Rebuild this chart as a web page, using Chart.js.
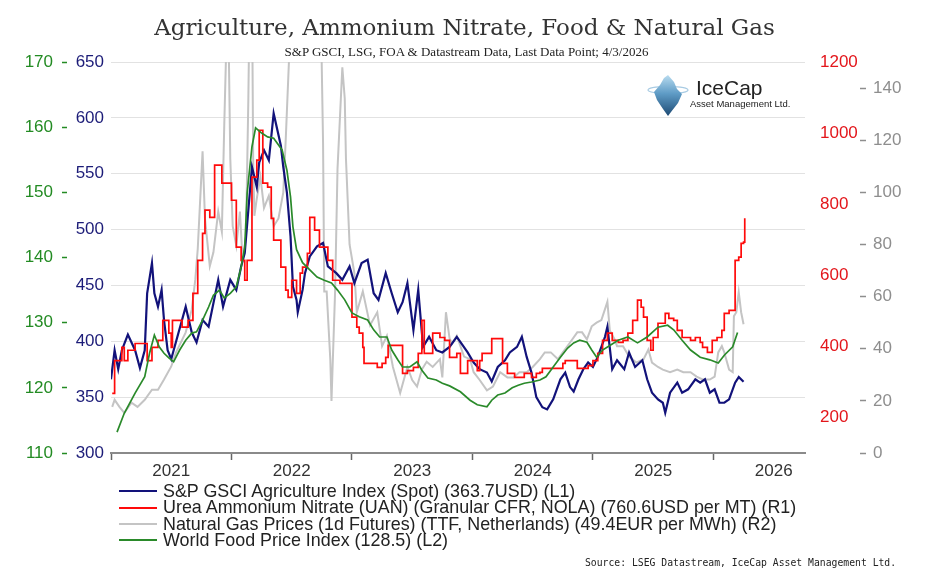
<!DOCTYPE html>
<html>
<head>
<meta charset="utf-8">
<script src="https://cdn.jsdelivr.net/npm/chart.js@4.4.1/dist/chart.umd.min.js"></script>
<style>
  html,body{margin:0;padding:0;background:#fff;}
  #wrap{position:relative;width:927px;height:587px;overflow:hidden;background:#fff;}
  #c{position:absolute;left:0;top:0;}
  .abs{position:absolute;white-space:nowrap;}
  #title{left:1px;top:14px;width:927px;text-align:center;font:23px "DejaVu Serif",serif;color:#333;line-height:26px;}
  #subtitle{left:3px;top:45px;width:927px;text-align:center;font:13px "Liberation Serif","Times New Roman",serif;color:#222;line-height:14px;}
  #logoText{left:696px;top:76px;font:21px "Liberation Sans",Arial,sans-serif;color:#222;line-height:24px;}
  #logoSub{left:690px;top:98px;font:9.5px "Liberation Sans",Arial,sans-serif;color:#222;line-height:12px;}
  #legend{left:119px;top:483px;font:17.9px "Liberation Sans",Arial,sans-serif;color:#222;}
  .row{height:16.4px;line-height:16.4px;display:flex;align-items:center;}
  .swatch{display:inline-block;width:38px;height:2px;margin-right:6px;}
  #source{left:585px;top:556px;font:9.75px "DejaVu Sans Mono",monospace;color:#222;line-height:13px;}
</style>
</head>
<body>
<div id="wrap">
  <canvas id="c" width="927" height="587"></canvas>
  <div id="title" class="abs">Agriculture, Ammonium Nitrate, Food &amp; Natural Gas</div>
  <div id="subtitle" class="abs">S&amp;P GSCI, LSG, FOA &amp; Datastream Data, Last Data Point; 4/3/2026</div>
  <svg class="abs" style="left:644px;top:73px" width="48" height="46" viewBox="0 0 48 46">
    <defs>
      <linearGradient id="ice" x1="0" y1="0" x2="0" y2="1">
        <stop offset="0" stop-color="#b9dcf0"/>
        <stop offset="0.45" stop-color="#5f9cc6"/>
        <stop offset="1" stop-color="#1d4a74"/>
      </linearGradient>
    </defs>
    <ellipse cx="24" cy="17" rx="20" ry="3.5" fill="none" stroke="#a8cbe3" stroke-width="1.2"/>
    <polygon points="24,2 30,9 33,16 38,21 34,30 27,39 24,43 19,36 13,27 10,19 16,12 20,5" fill="url(#ice)"/>
  </svg>
  <div id="logoText" class="abs">IceCap</div>
  <div id="logoSub" class="abs">Asset Management Ltd.</div>
  <div id="legend" class="abs"></div>
  <div id="source" class="abs">Source: LSEG Datastream, IceCap Asset Management Ltd.</div>
</div>
<script>
// ---- Data (decimal year, value) ----
const yearLabels = ['2021','2022','2023','2024','2025','2026'];
const blueTicks  = [300,350,400,450,500,550,600,650];
const greenTicks = [110,120,130,140,150,160,170];
const redTicks   = [200,400,600,800,1000,1200];
const grayTicks  = [0,20,40,60,80,100,120,140];

const seriesNames = [
  'S&P GSCI Agriculture Index (Spot) (363.7USD) (L1)',
  'Urea Ammonium Nitrate (UAN) (Granular CFR, NOLA) (760.6USD per MT) (R1)',
  'Natural Gas Prices (1d Futures) (TTF, Netherlands) (49.4EUR per MWh) (R2)',
  'World Food Price Index (128.5) (L2)'
];

const agriSpot = [
  [2021.00,366],[2021.03,392],[2021.06,375],[2021.09,392],[2021.14,406],[2021.20,392],[2021.24,376],[2021.28,392],
  [2021.30,443],[2021.34,470],[2021.36,443],[2021.39,431],[2021.42,446],[2021.44,419],[2021.47,392],[2021.50,384],
  [2021.52,392],[2021.62,431],[2021.67,408],[2021.71,399],[2021.76,419],[2021.81,413],[2021.89,455],[2021.93,431],
  [2021.99,455],[2022.04,446],[2022.08,467],[2022.11,479],[2022.17,556],[2022.21,538],[2022.23,560],[2022.27,571],
  [2022.31,562],[2022.35,604],[2022.41,575],[2022.43,556],[2022.46,533],[2022.49,494],[2022.51,449],[2022.54,437],
  [2022.55,426],[2022.59,446],[2022.61,461],[2022.65,476],[2022.71,485],[2022.76,488],[2022.80,467],[2022.87,461],
  [2022.92,455],[2022.98,467],[2023.02,452],[2023.08,470],[2023.13,473],[2023.18,443],[2023.22,437],[2023.28,461],
  [2023.33,443],[2023.38,426],[2023.42,435],[2023.46,452],[2023.51,410],[2023.55,446],[2023.59,395],[2023.64,404],
  [2023.70,392],[2023.75,390],[2023.81,395],[2023.87,404],[2023.96,390],[2024.01,381],[2024.06,375],[2024.12,372],
  [2024.16,364],[2024.21,377],[2024.27,383],[2024.31,390],[2024.37,395],[2024.41,404],[2024.45,386],[2024.49,372],
  [2024.53,350],[2024.58,341],[2024.62,339],[2024.67,348],[2024.73,366],[2024.77,372],[2024.81,359],[2024.84,355],
  [2024.88,366],[2024.92,375],[2024.96,381],[2025.00,377],[2025.04,386],[2025.10,404],[2025.12,413],[2025.16,375],
  [2025.20,383],[2025.26,375],[2025.30,390],[2025.35,377],[2025.41,383],[2025.45,366],[2025.49,354],[2025.54,348],
  [2025.58,345],[2025.60,336],[2025.64,354],[2025.70,363],[2025.74,354],[2025.79,357],[2025.85,366],[2025.89,363],
  [2025.93,366],[2025.97,354],[2026.01,357],[2026.05,345],[2026.09,345],[2026.13,348],[2026.18,363],[2026.21,368],
  [2026.25,363.7]
];

const ureaAN = [
  [2021.01,268],[2021.03,360],[2021.09,397],[2021.11,360],[2021.14,389],[2021.20,408],[2021.30,360],[2021.34,397],
  [2021.39,417],[2021.43,473],[2021.48,437],[2021.50,397],[2021.51,473],[2021.59,454],[2021.64,473],[2021.68,549],
  [2021.72,642],[2021.76,718],[2021.78,783],[2021.82,763],[2021.86,910],[2021.92,859],[2022.00,811],[2022.04,679],
  [2022.08,642],[2022.11,586],[2022.13,642],[2022.17,876],[2022.21,924],[2022.23,1008],[2022.26,859],[2022.30,848],
  [2022.33,760],[2022.35,699],[2022.41,623],[2022.45,558],[2022.47,538],[2022.50,586],[2022.54,549],[2022.57,606],
  [2022.59,623],[2022.63,662],[2022.65,763],[2022.69,727],[2022.73,679],[2022.80,642],[2022.84,586],[2022.90,577],
  [2023.00,482],[2023.04,454],[2023.06,437],[2023.09,397],[2023.10,352],[2023.21,341],[2023.25,352],[2023.28,369],
  [2023.30,403],[2023.42,324],[2023.46,332],[2023.51,341],[2023.55,380],[2023.58,473],[2023.60,380],[2023.67,437],
  [2023.73,425],[2023.77,417],[2023.81,369],[2023.87,380],[2023.90,324],[2023.96,360],[2024.04,332],[2024.06,360],
  [2024.08,380],[2024.16,422],[2024.25,352],[2024.29,324],[2024.35,313],[2024.43,324],[2024.49,313],[2024.53,324],
  [2024.56,327],[2024.58,338],[2024.75,352],[2024.77,360],[2024.87,338],[2024.96,346],[2025.00,360],[2025.04,380],
  [2025.08,417],[2025.12,437],[2025.16,417],[2025.21,411],[2025.25,417],[2025.29,437],[2025.33,473],[2025.37,530],
  [2025.40,510],[2025.42,482],[2025.45,417],[2025.48,389],[2025.50,425],[2025.54,465],[2025.60,493],[2025.63,479],
  [2025.67,473],[2025.70,445],[2025.74,425],[2025.81,417],[2025.85,425],[2025.89,411],[2025.91,397],[2025.95,383],
  [2025.99,417],[2026.03,425],[2026.07,445],[2026.09,493],[2026.13,501],[2026.18,642],[2026.21,651],[2026.23,690],
  [2026.25,693],[2026.26,760.6]
];

const ttfGas = [
  [2021.01,17.7],[2021.03,20.4],[2021.07,17.7],[2021.11,15.4],[2021.17,19.3],[2021.22,17.7],[2021.28,20.4],[2021.34,24.3],
  [2021.39,24.3],[2021.44,28.2],[2021.50,33.2],[2021.54,38.6],[2021.62,46.3],[2021.67,55],[2021.70,66.7],[2021.72,78.3],
  [2021.76,115.7],[2021.78,89.9],[2021.82,71.7],[2021.85,77],[2021.89,92.6],[2021.92,84.9],[2021.94,125.7],[2021.97,180],
  [2021.99,113],[2022.01,87],[2022.04,79.5],[2022.07,92.6],[2022.09,75.6],[2022.12,82],[2022.14,136],[2022.16,210],
  [2022.17,180],[2022.18,113],[2022.19,91],[2022.21,97.6],[2022.24,106],[2022.27,94],[2022.31,98.7],[2022.35,87],
  [2022.39,90],[2022.43,100],[2022.45,120],[2022.49,165],[2022.55,175],[2022.62,200],[2022.68,260],[2022.72,300],
  [2022.745,160],[2022.76,119],[2022.77,62],[2022.79,62],[2022.82,36],[2022.83,20],[2022.86,62],[2022.88,109],
  [2022.92,148],[2022.94,136],[2022.95,113],[2022.98,80],[2023.02,69],[2023.04,54],[2023.09,62],[2023.15,49],
  [2023.21,54],[2023.25,41],[2023.29,45],[2023.34,33],[2023.40,23],[2023.46,33],[2023.50,28],[2023.54,25.5],
  [2023.58,32],[2023.62,35],[2023.67,33],[2023.73,36],[2023.75,29],[2023.78,54],[2023.81,44],[2023.83,42],
  [2023.87,45],[2023.93,37],[2023.98,36],[2024.01,31],[2024.06,28],[2024.12,24],[2024.17,25.5],[2024.23,31],
  [2024.29,29],[2024.34,29],[2024.39,31],[2024.45,31],[2024.50,33],[2024.56,36],[2024.60,38.6],[2024.65,38.6],
  [2024.71,36],[2024.75,38.6],[2024.81,42.4],[2024.87,46.3],[2024.91,46.3],[2024.95,43.6],[2024.99,48.6],[2025.03,50],
  [2025.07,51],[2025.12,58],[2025.14,47],[2025.18,43.6],[2025.20,41],[2025.25,41],[2025.30,37],[2025.36,34.7],
  [2025.42,36],[2025.46,39.7],[2025.49,34.7],[2025.54,33],[2025.58,32],[2025.64,31],[2025.70,32],[2025.75,31],
  [2025.81,31],[2025.86,29.3],[2025.91,28.2],[2025.97,28.2],[2026.01,29.3],[2026.04,38.6],[2026.07,41],[2026.09,38.6],
  [2026.13,32],[2026.16,31],[2026.17,52.5],[2026.19,54],[2026.21,61.7],[2026.23,54],[2026.25,49.4]
];

const foodIndex = [
  [2021.05,113.2],[2021.11,116.1],[2021.20,119.2],[2021.28,121.7],[2021.32,125.3],[2021.36,128.1],[2021.40,126.3],[2021.44,125.3],
  [2021.48,124.6],[2021.52,124.0],[2021.57,125.8],[2021.62,127.3],[2021.67,128.4],[2021.71,128.6],[2021.76,130.4],[2021.81,132.4],
  [2021.85,134.2],[2021.90,135.0],[2021.94,133.8],[2021.99,134.5],[2022.04,135.5],[2022.08,138.5],[2022.11,141.6],[2022.13,149.9],
  [2022.17,157.0],[2022.20,159.9],[2022.25,159.1],[2022.30,158.5],[2022.35,158.3],[2022.42,156.5],[2022.46,153.4],[2022.49,149.3],
  [2022.51,144.7],[2022.54,141.2],[2022.59,139.2],[2022.65,138.1],[2022.71,137.0],[2022.77,136.5],[2022.83,136.1],[2022.88,135.0],
  [2022.94,133.5],[2023.00,131.5],[2023.06,130.9],[2023.13,130.4],[2023.18,128.9],[2023.23,127.8],[2023.29,127.8],[2023.33,125.8],
  [2023.38,124.3],[2023.42,123.2],[2023.48,123.2],[2023.54,124.0],[2023.58,122.7],[2023.63,121.5],[2023.70,121.2],[2023.75,120.7],
  [2023.81,120.3],[2023.90,119.4],[2023.98,118.1],[2024.04,117.4],[2024.12,117.1],[2024.16,118.1],[2024.21,118.9],[2024.27,119.2],
  [2024.33,120.0],[2024.38,120.4],[2024.43,120.7],[2024.49,120.9],[2024.56,121.2],[2024.61,121.7],[2024.67,123.2],[2024.73,124.7],
  [2024.79,126.1],[2024.84,126.9],[2024.89,127.3],[2024.95,127.0],[2024.99,125.8],[2025.03,124.7],[2025.08,125.8],[2025.14,126.5],
  [2025.21,127.3],[2025.29,127.8],[2025.37,126.9],[2025.45,127.8],[2025.54,129.3],[2025.62,129.6],[2025.67,128.9],[2025.74,127.3],
  [2025.81,125.8],[2025.89,124.7],[2025.97,124.3],[2026.04,123.8],[2026.09,125.0],[2026.16,126.3],[2026.20,128.5]
];

// ---- Styles ----
const COL = { blue:'#12127a', red:'#ff0a0a', gray:'#c4c4c4', green:'#2a8a2a' };
const LBL = { blue:'#1c1c78', red:'#e3161b', gray:'#8e8e8e', green:'#238b23' };
const FONT = { family:'"Liberation Sans", Arial, sans-serif', size:17 };

const toXY = arr => arr.map(([x, y]) => ({ x, y }));
const setTicks = list => scale => { scale.ticks = list.map(v => ({ value: v })); };
const plain = v => String(v);
const xTickValues = [];
yearLabels.forEach(y => { xTickValues.push(+y); xTickValues.push(+y + 0.5); });

const datasets = [
  { label: seriesNames[3], data: toXY(foodIndex), yAxisID:'yGreen', borderColor:COL.green, borderWidth:1.7, order:1 },
  { label: seriesNames[1], data: toXY(ureaAN),   yAxisID:'yRed',   borderColor:COL.red,   borderWidth:1.7, stepped:true, order:2 },
  { label: seriesNames[0], data: toXY(agriSpot), yAxisID:'yBlue',  borderColor:COL.blue,  borderWidth:2.2, order:3 },
  { label: seriesNames[2], data: toXY(ttfGas),   yAxisID:'yGray',  borderColor:COL.gray,  borderWidth:2.0, order:4 }
];

const chart = new Chart(document.getElementById('c'), {
  type: 'line',
  data: { datasets },
  options: {
    responsive: false,
    animation: false,
    layout: { padding: { top: 62, right: 7, bottom: 104, left: 0 } },
    elements: { point: { radius: 0 }, line: { tension: 0, fill: false } },
    plugins: { legend: { display: false }, tooltip: { enabled: false }, title: { display: false } },
    scales: {
      x: {
        type: 'linear', min: 2021, max: 2026.76,
        afterBuildTicks: setTicks(xTickValues),
        afterFit: s => { s.height = 30; },
        ticks: { autoSkip: false, maxRotation: 0, padding: 1, color: '#333', font: FONT,
                 callback: v => (v % 1 !== 0) ? String(Math.floor(v)) : '' },
        grid: { drawOnChartArea: false, tickLength: 7, tickWidth: 1.5,
                tickColor: ctx => (ctx.tick && ctx.tick.value % 1 === 0) ? '#666' : 'rgba(0,0,0,0)' },
        border: { color: '#8a8a8a', width: 2 }
      },
      yBlue: {
        position: 'left', weight: 0, min: 300, max: 650,
        afterBuildTicks: setTicks(blueTicks),
        afterFit: s => { s.width = 44; },
        ticks: { color: LBL.blue, font: FONT, padding: 7, callback: plain },
        grid: { color: '#e2e2e2', lineWidth: 1, drawTicks: false },
        border: { display: false }
      },
      yGreen: {
        position: 'left', weight: 1, min: 110, max: 170,
        afterBuildTicks: setTicks(greenTicks),
        afterFit: s => { s.width = 67; },
        ticks: { color: LBL.green, font: FONT, padding: 9, callback: plain },
        grid: { drawOnChartArea: false, tickLength: 5, tickWidth: 1.5, tickColor: LBL.green },
        border: { display: false }
      },
      yRed: {
        position: 'right', weight: 0, min: 100, max: 1200,
        afterBuildTicks: setTicks(redTicks),
        afterFit: s => { s.width = 55; },
        ticks: { color: LBL.red, font: FONT, padding: 7, callback: plain },
        grid: { display: false },
        border: { display: false }
      },
      yGray: {
        position: 'right', weight: 1, min: 0, max: 150,
        afterBuildTicks: setTicks(grayTicks),
        afterFit: s => { s.width = 60; },
        ticks: { color: LBL.gray, font: FONT, padding: 7, callback: plain },
        grid: { drawOnChartArea: false, tickLength: 6, tickWidth: 1.5, tickColor: LBL.gray },
        border: { display: false }
      }
    }
  }
});

// ---- HTML legend in reference order ----
const legendOrder = [
  { name: seriesNames[0], color: COL.blue },
  { name: seriesNames[1], color: COL.red },
  { name: seriesNames[2], color: COL.gray },
  { name: seriesNames[3], color: COL.green }
];
const legendEl = document.getElementById('legend');
legendOrder.forEach(item => {
  const row = document.createElement('div');
  row.className = 'row';
  const sw = document.createElement('span');
  sw.className = 'swatch';
  sw.style.background = item.color;
  const tx = document.createElement('span');
  tx.textContent = item.name;
  row.appendChild(sw); row.appendChild(tx);
  legendEl.appendChild(row);
});
</script>
</body>
</html>
